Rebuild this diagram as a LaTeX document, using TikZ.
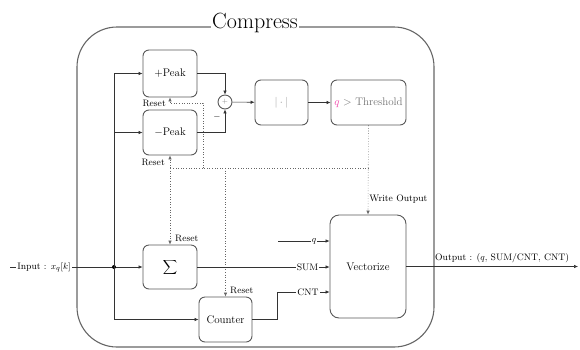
\documentclass[tikz,border=0pt]{standalone}
\usetikzlibrary{arrows.meta,calc}
\begin{document}
\begin{tikzpicture}[x=1pt,y=-1pt,
 blk/.style={draw=black!65, line width=0.9pt, rounded corners=6pt, minimum width=54pt, minimum height=45pt, inner sep=0pt, font=\fontsize{11}{13}\selectfont, fill=white},
 conn/.style={draw=black!80, line width=0.6pt},
 arr/.style={conn, -{Latex[length=4pt,width=3.6pt]}},
 rst/.style={draw=black!60, line width=0.6pt, dotted},
 rsta/.style={rst, -{Latex[length=4pt,width=3.6pt]}},
 lbl/.style={font=\fontsize{9.4}{11}\selectfont, inner sep=1pt},
 onl/.style={lbl, fill=white}]
\useasboundingbox (0,0) rectangle (580,349);

% outer frame and title
\node[draw=black!60, line width=1.1pt, rounded corners=40pt, minimum width=357pt, minimum height=320pt, inner sep=0pt] (outer) at (255.5,187) {};
\node[fill=white, inner sep=1pt, anchor=base, font=\fontsize{22}{26}\selectfont] (title) at (255,28) {Compress};

% blocks
\node[blk, minimum height=47pt] (pp) at (170,73.5) {$+$Peak};
\node[blk] (mp) at (170,132.5) {$-$Peak};
\node[draw=black!65, line width=0.9pt, circle, minimum size=14pt, inner sep=0pt, font=\scriptsize, text=black!50, fill=white] (sum) at (225,102) {$+$};
\node[blk, minimum width=53pt, text=black!40] (abs) at (281.5,102.5) {$|\cdot|$};
\node[blk, minimum width=75pt, text=black!55] (thr) at (368.5,102.5) {\textcolor{magenta!70}{$q$} $>$ Threshold};
\node[blk, minimum height=44pt] (sig) at (170,267) {\large$\displaystyle\sum$};
\node[blk, minimum width=53pt] (cnt) at (225.5,319.5) {Counter};
\node[blk, minimum width=76pt, minimum height=103pt, rounded corners=9pt] (vec) at (368,266.5) {Vectorize};

% input and branches
\coordinate (in) at (10,267);
\draw[arr] (in) -- (sig.west);
\node[onl] (inl) at (44,267) {Input : $x_q[k]$};
\node[circle, fill=black, inner sep=0pt, minimum size=4pt] (dot) at (114,267) {};
\draw[conn] (pp.west -| dot) -- (cnt.west -| dot);
\draw[arr] (pp.west -| dot) -- (pp.west);
\draw[arr] (mp.west -| dot) -- (mp.west);
\draw[arr] (cnt.west -| dot) -- (cnt.west);

% peak path
\draw[arr] (pp.east) -| (sum.north);
\draw[arr] (mp.east) -| (sum.south);
\node[lbl] (minus) at (217,117) {$-$};
\draw[arr] (sum) -- (abs);
\draw[arr] (abs) -- (thr);

% write output
\draw[rsta] (thr.south) -- node[lbl, pos=0.83, anchor=west] (wo) {Write Output} (vec.north);

% reset network
\coordinate (jr) at (368.5,168);
\coordinate (jl) at (170,168);
\coordinate (jp) at (203,168);
\coordinate (jp2) at (203,103);
\coordinate (jp3) at (170,103);
\coordinate (jc) at (225.5,168);
\draw[rst] (jr) -- (jl);
\draw[rst] (jp) -- (jp2) -- (jp3);
\draw[rsta] (jp3) -- (pp.south);
\draw[rsta] (jl) -- (mp.south);
\draw[rsta] (jl) -- (sig.north);
\draw[rsta] (jc) -- (cnt.north);
\node[lbl, anchor=east] (r1) at (167,103) {Reset};
\node[lbl, anchor=east] (r2) at (166,162) {Reset};
\node[lbl, anchor=west] (r3) at (174,238) {Reset};
\node[lbl, anchor=west] (r4) at (229,290) {Reset};

% vectorize inputs
\coordinate (qin) at (278,241);
\coordinate (cbend) at (277,292);
\draw[arr] (qin) -- (vec.west |- qin);
\node[onl] (ql) at (314,241) {$q$};
\draw[arr] (sig.east) -- (vec.west |- sig.east);
\node[onl] (sl) at (307.5,267) {SUM};
\draw[arr] (cnt.east) -| (cbend) -- (vec.west |- cbend);
\node[onl] (cl) at (308,292) {CNT};

% output
\coordinate (out) at (578,266.5);
\draw[arr] (vec.east) -- (out);
\node[lbl, anchor=south west] (ol) at (434,264.5) {Output : ($q$, SUM/CNT, CNT)};
\end{tikzpicture}
\end{document}
